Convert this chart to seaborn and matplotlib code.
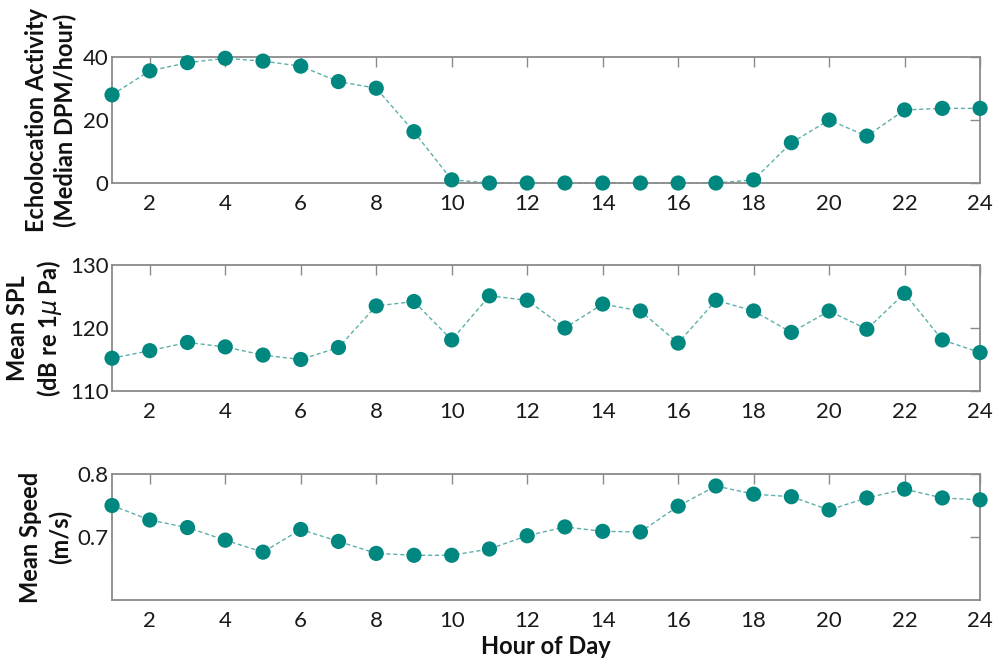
import matplotlib
matplotlib.use("Agg")
import matplotlib.pyplot as plt
import numpy as np
import pandas as pd
import seaborn as sns

hours = list(range(1, 25))

echolocation = [28.0, 35.6, 38.2, 39.6, 38.7, 37.1, 32.2, 30.1, 16.3, 1.0,
                0.0, 0.0, 0.0, 0.0, 0.0, 0.0, 0.0, 1.0, 12.8, 20.0,
                14.9, 23.2, 23.7, 23.7]

mean_spl = [115.2, 116.4, 117.7, 117.0, 115.7, 115.0, 116.9, 123.5, 124.2, 118.1,
            125.1, 124.4, 120.0, 123.8, 122.7, 117.6, 124.4, 122.7, 119.3, 122.7,
            119.8, 125.5, 118.1, 116.1]

mean_speed = [0.750, 0.727, 0.715, 0.695, 0.676, 0.712, 0.693, 0.674, 0.671, 0.671,
              0.681, 0.702, 0.716, 0.709, 0.708, 0.749, 0.781, 0.768, 0.764, 0.743,
              0.762, 0.776, 0.762, 0.759]

x_ticks = list(range(2, 25, 2))

panels = [
    ("Echolocation Activity\n(Median DPM/hour)", echolocation, (0, 40), [0, 20, 40], ["0", "20", "40"]),
    ("Mean SPL\n(dB re 1$\\mu$ Pa)", mean_spl, (110, 130), [110, 120, 130], ["110", "120", "130"]),
    ("Mean Speed\n(m/s)", mean_speed, (0.6, 0.8), [0.7, 0.8], ["0.7", "0.8"]),
]

sns.set_theme(style="white")
plt.rcParams["font.family"] = ["Lato", "DejaVu Sans"]
plt.rcParams["mathtext.fontset"] = "dejavusans"

marker_color = "#00877F"
line_color = "#5DAFA9"
spine_color = "#8A8A8A"

fig = plt.figure(figsize=(9.95, 6.6), dpi=100)

left, width, height = 0.1126, 0.8724, 0.1909
bottoms = [0.7227, 0.4076, 0.0909]

for (label, values, ylim, yticks, yticklabels), b in zip(panels, bottoms):
    ax = fig.add_axes([left, b, width, height])
    df = pd.DataFrame({"hour": hours, "value": values})
    sns.lineplot(data=df, x="hour", y="value", ax=ax, color=line_color,
                 linewidth=1.0, linestyle=(0, (3, 2)), clip_on=False)
    sns.scatterplot(data=df, x="hour", y="value", ax=ax, color=marker_color,
                    s=120, edgecolor="none", clip_on=False, zorder=3)
    ax.set_xlim(1, 24)
    ax.set_ylim(*ylim)
    ax.set_xticks(x_ticks)
    ax.set_xticklabels([str(t) for t in x_ticks], fontsize=16, color="#1a1a1a")
    ax.set_yticks(yticks)
    ax.set_yticklabels(yticklabels, fontsize=16, color="#1a1a1a")
    ax.tick_params(axis="x", direction="in", top=True, length=7, width=1.0,
                   color=spine_color, pad=8)
    ax.tick_params(axis="y", direction="in", right=True, length=7, width=1.0,
                   color=spine_color, pad=2.5)
    for sp in ax.spines.values():
        sp.set_color(spine_color)
        sp.set_linewidth(1.3)
        sp.set_visible(True)
    ax.set_ylabel(label, fontsize=17, fontweight="bold", color="#111111",
                  linespacing=1.3, labelpad=4)
    ax.set_xlabel("")
    if b == bottoms[-1]:
        ax.set_xlabel("Hour of Day", fontsize=17, fontweight="bold",
                      color="#111111", labelpad=3)

fig.savefig("out.png", dpi=100)
